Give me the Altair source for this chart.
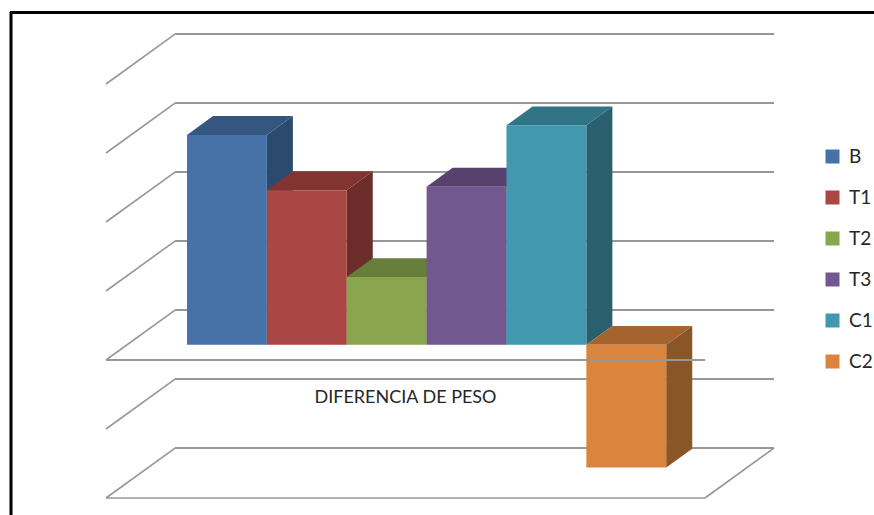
import altair as alt
import pandas as pd

# Weight difference per treatment group
groups = ["B", "T1", "T2", "T3", "C1", "C2"]
values = [1.52, 1.12, 0.49, 1.145, 1.59, -0.89]
front_colors = ["#4672A8", "#AA4643", "#89A54E", "#71588F", "#4198AF", "#DB843D"]
top_colors = ["#35577F", "#823433", "#677D3A", "#56426C", "#317486", "#A5642E"]
side_colors = ["#2C4A6E", "#6C2C2A", "#536630", "#47365A", "#2A5F6F", "#8A5527"]
ticks = [2.0, 1.5, 1.0, 0.5, 0.0, -0.5, -1.0]

# Oblique projection: a full step into the depth moves right and up by these amounts
DEPTH_X = 0.864
DEPTH_Y = 0.362
FLOOR_END = 7.5
GAP = 0.75
BAR_NEAR = 0.306
BAR_FAR = 0.683

GRID = "#979797"
TEXT = "#262626"
FONT = "Lato"

x_scale = alt.Scale(domain=[0, FLOOR_END], nice=False, zero=False)
y_scale = alt.Scale(domain=[-1, 2], nice=False, zero=False)


def X(field, axis=None):
    return alt.X(field, type="quantitative", scale=x_scale, axis=axis, title=None)


def Y(field, axis=None):
    return alt.Y(field, type="quantitative", scale=y_scale, axis=axis, title=None)


# Wall and floor lines
back_lines = pd.DataFrame([
    {"x0": DEPTH_X, "x1": FLOOR_END + DEPTH_X, "y0": t + DEPTH_Y, "y1": t + DEPTH_Y}
    for t in ticks
])
side_lines = pd.DataFrame(
    [{"x0": 0, "x1": DEPTH_X, "y0": t, "y1": t + DEPTH_Y} for t in ticks]
    + [{"x0": FLOOR_END, "x1": FLOOR_END + DEPTH_X, "y0": -1, "y1": -1 + DEPTH_Y},
       {"x0": 0, "x1": FLOOR_END, "y0": -1, "y1": -1}]
)
zero_line = pd.DataFrame([{"x0": 0, "x1": FLOOR_END, "y0": 0, "y1": 0}])

# Bar faces
fronts, sides, tops = [], [], []
for i, (g, v) in enumerate(zip(groups, values)):
    left = GAP + i + BAR_NEAR * DEPTH_X
    right = left + 1
    hi, lo = max(v, 0), min(v, 0)
    near_shift = BAR_NEAR * DEPTH_Y
    far_shift = BAR_FAR * DEPTH_Y
    run = (BAR_FAR - BAR_NEAR) * DEPTH_X
    fronts.append({"group": g, "x0": left, "x1": right,
                   "y0": lo + near_shift, "y1": hi + near_shift})
    sides.append({"group": g, "x": right, "lo": lo + near_shift, "hi": hi + near_shift,
                  "fill": side_colors[i]})
    sides.append({"group": g, "x": right + run, "lo": lo + far_shift, "hi": hi + far_shift,
                  "fill": side_colors[i]})
    tops.append({"group": g, "y": hi + near_shift, "x0": left, "x1": right,
                 "fill": top_colors[i]})
    tops.append({"group": g, "y": hi + far_shift, "x0": left + run, "x1": right + run,
                 "fill": top_colors[i]})

y_axis = alt.Axis(
    values=ticks,
    labelExpr="replace(format(datum.value, '.2f'), '.', ',')",
    labelFont=FONT,
    labelFontSize=19,
    labelColor=TEXT,
    labelPadding=4,
    tickSize=8,
    tickColor=GRID,
    tickWidth=2,
    domainColor=GRID,
    domainWidth=2,
    grid=False,
)

back_layer = alt.Chart(back_lines).mark_rule(color=GRID, strokeWidth=2).encode(
    x=X("x0"), x2="x1", y=Y("y0", axis=y_axis), y2="y1"
)
side_line_layer = alt.Chart(side_lines).mark_rule(color=GRID, strokeWidth=1.6).encode(
    x=X("x0"), x2="x1", y=Y("y0"), y2="y1"
)
side_layer = alt.Chart(pd.DataFrame(sides)).mark_area(opacity=1, orient="vertical").encode(
    x=X("x"), y=Y("lo"), y2="hi",
    detail="group:N",
    color=alt.Color("fill:N", scale=None),
)
top_layer = alt.Chart(pd.DataFrame(tops)).mark_area(opacity=1, orient="horizontal").encode(
    y=Y("y"), x=X("x0"), x2="x1",
    detail="group:N",
    color=alt.Color("fill:N", scale=None),
)
front_layer = alt.Chart(pd.DataFrame(fronts)).mark_rect().encode(
    x=X("x0"), x2="x1", y=Y("y0"), y2="y1",
    color=alt.Color(
        "group:N",
        scale=alt.Scale(domain=groups, range=front_colors),
        sort=groups,
        legend=alt.Legend(
            title=None,
            orient="none",
            legendX=717,
            legendY=63,
            padding=0,
            symbolType="square",
            symbolSize=196,
            symbolStrokeWidth=0,
            symbolOpacity=1,
            labelFont=FONT,
            labelFontSize=19,
            labelColor=TEXT,
            labelOffset=7,
            rowPadding=21,
        ),
    ),
)
zero_layer = alt.Chart(zero_line).mark_rule(color=GRID, strokeWidth=2).encode(
    x=X("x0"), x2="x1", y=Y("y0"), y2="y1"
)
series_label = alt.Chart(pd.DataFrame([{"x": FLOOR_END / 2, "y": -0.276, "t": "DIFERENCIA DE PESO"}])).mark_text(
    font=FONT, fontSize=18, color=TEXT, align="center", baseline="middle"
).encode(x=X("x"), y=Y("y"), text="t:N")

# Outer frame, open at the right and bottom
frame_top = alt.Chart(pd.DataFrame([{"k": 0}])).mark_rule(color="#000000", strokeWidth=3).encode(
    x=alt.value(-96), x2=alt.value(768), y=alt.value(-71.5)
)
frame_left = alt.Chart(pd.DataFrame([{"k": 0}])).mark_rule(color="#000000", strokeWidth=3).encode(
    x=alt.value(-95), y=alt.value(-72), y2=alt.value(431)
)

chart = alt.layer(
    back_layer, side_line_layer, side_layer, top_layer, front_layer,
    zero_layer, series_label, frame_top, frame_left,
).properties(
    width=599,
    height=414,
    padding={"left": 106, "top": 84, "right": 169, "bottom": 17},
    autosize=alt.AutoSizeParams(type="none"),
    background="#FFFFFF",
).configure_view(stroke=None)

chart.save("out.html", embed_options={"renderer": "svg", "actions": False})
